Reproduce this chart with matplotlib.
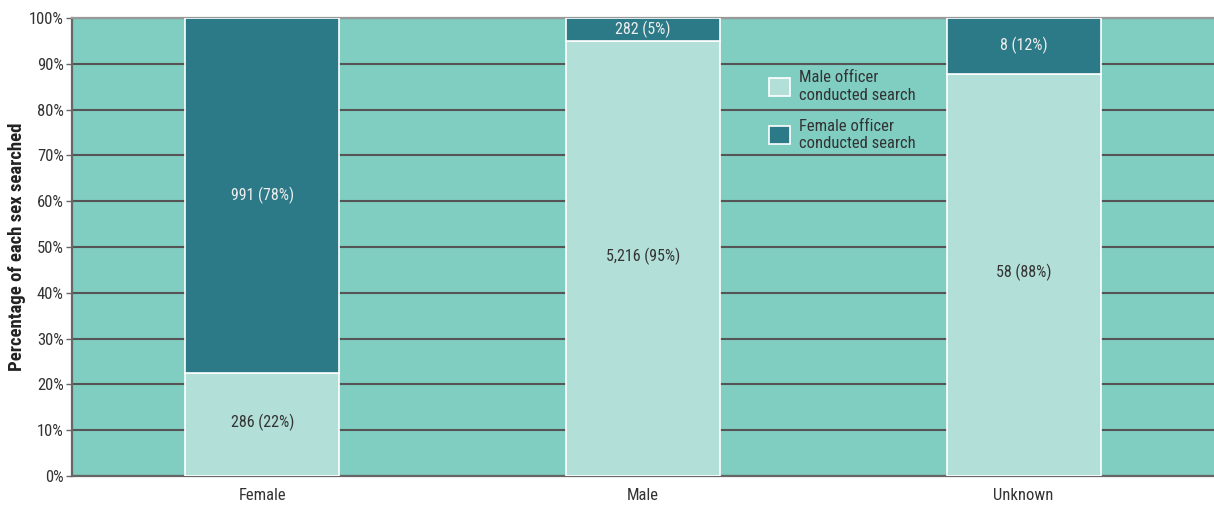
import matplotlib
matplotlib.use('Agg')
import matplotlib.pyplot as plt
import numpy as np

# counts of searches by sex of person searched
categories = ['Female', 'Male', 'Unknown']
male_officer = [286, 5216, 58]
female_officer = [991, 282, 8]
series_labels = ['Male officer\nconducted search', 'Female officer\nconducted search']

BG = '#80cdc1'
LIGHT = '#b2dfd8'
DARK = '#2c7a87'

plt.rcParams['font.family'] = ['Roboto Condensed', 'Liberation Sans', 'DejaVu Sans']

male = np.array(male_officer, dtype=float)
female = np.array(female_officer, dtype=float)
total = male + female
male_pct = male / total * 100
female_pct = female / total * 100

fig = plt.figure(figsize=(12.14, 5.09), dpi=100)
ax = fig.add_axes([72 / 1214, 33 / 509, 1 - 72 / 1214, 458 / 509])
ax.set_facecolor(BG)

x = np.arange(len(categories))
w = 0.405
ax.bar(x, male_pct, w, color=LIGHT, edgecolor='white', linewidth=1.2,
       label=series_labels[0], zorder=3)
ax.bar(x, female_pct, w, bottom=male_pct, color=DARK, edgecolor='white',
       linewidth=1.2, label=series_labels[1], zorder=3)

for i in range(len(categories)):
    ax.text(x[i], male_pct[i] / 2 + 0.6, f"{int(male[i]):,} ({male_pct[i]:.0f}%)",
            ha='center', va='center', fontsize=11.5, color='#333333', zorder=4)
    ax.text(x[i], male_pct[i] + female_pct[i] / 2,
            f"{int(female[i]):,} ({female_pct[i]:.0f}%)",
            ha='center', va='center', fontsize=11.5, color='#eeeeee', zorder=4)

ax.set_xlim(-0.5, 2.5)
ax.set_ylim(0, 100)
ax.set_yticks(np.arange(0, 101, 10))
ax.set_yticklabels([f"{v}%" for v in range(0, 101, 10)])
ax.set_xticks(x)
ax.set_xticklabels(categories)
ax.yaxis.grid(True, color='#555555', linewidth=1.5, zorder=1)
ax.set_axisbelow(True)

ax.tick_params(axis='y', length=4, width=1, color='#666666', labelsize=12,
               labelcolor='#333333', pad=2)
ax.tick_params(axis='x', length=0, labelsize=12, labelcolor='#333333', pad=9)

for s in ['left', 'bottom']:
    ax.spines[s].set_color('#666666')
    ax.spines[s].set_linewidth(1.6)
ax.spines['top'].set_color('#999999')
ax.spines['top'].set_linewidth(1.6)
ax.spines['right'].set_visible(False)

fig.text(17 / 1214, 1 - 247 / 509, 'Percentage of each sex searched', rotation=90,
         ha='center', va='center', fontsize=13.5, fontweight='bold', color='#222222')

ax.legend(loc='upper left', bbox_to_anchor=(761 / 1214, 1 - 62 / 509),
          bbox_transform=fig.transFigure, frameon=False, fontsize=12,
          handlelength=1.25, handleheight=1.25, handletextpad=0.55,
          labelspacing=0.95, borderpad=0, labelcolor='#333333')

fig.savefig('out.png', dpi=100)
